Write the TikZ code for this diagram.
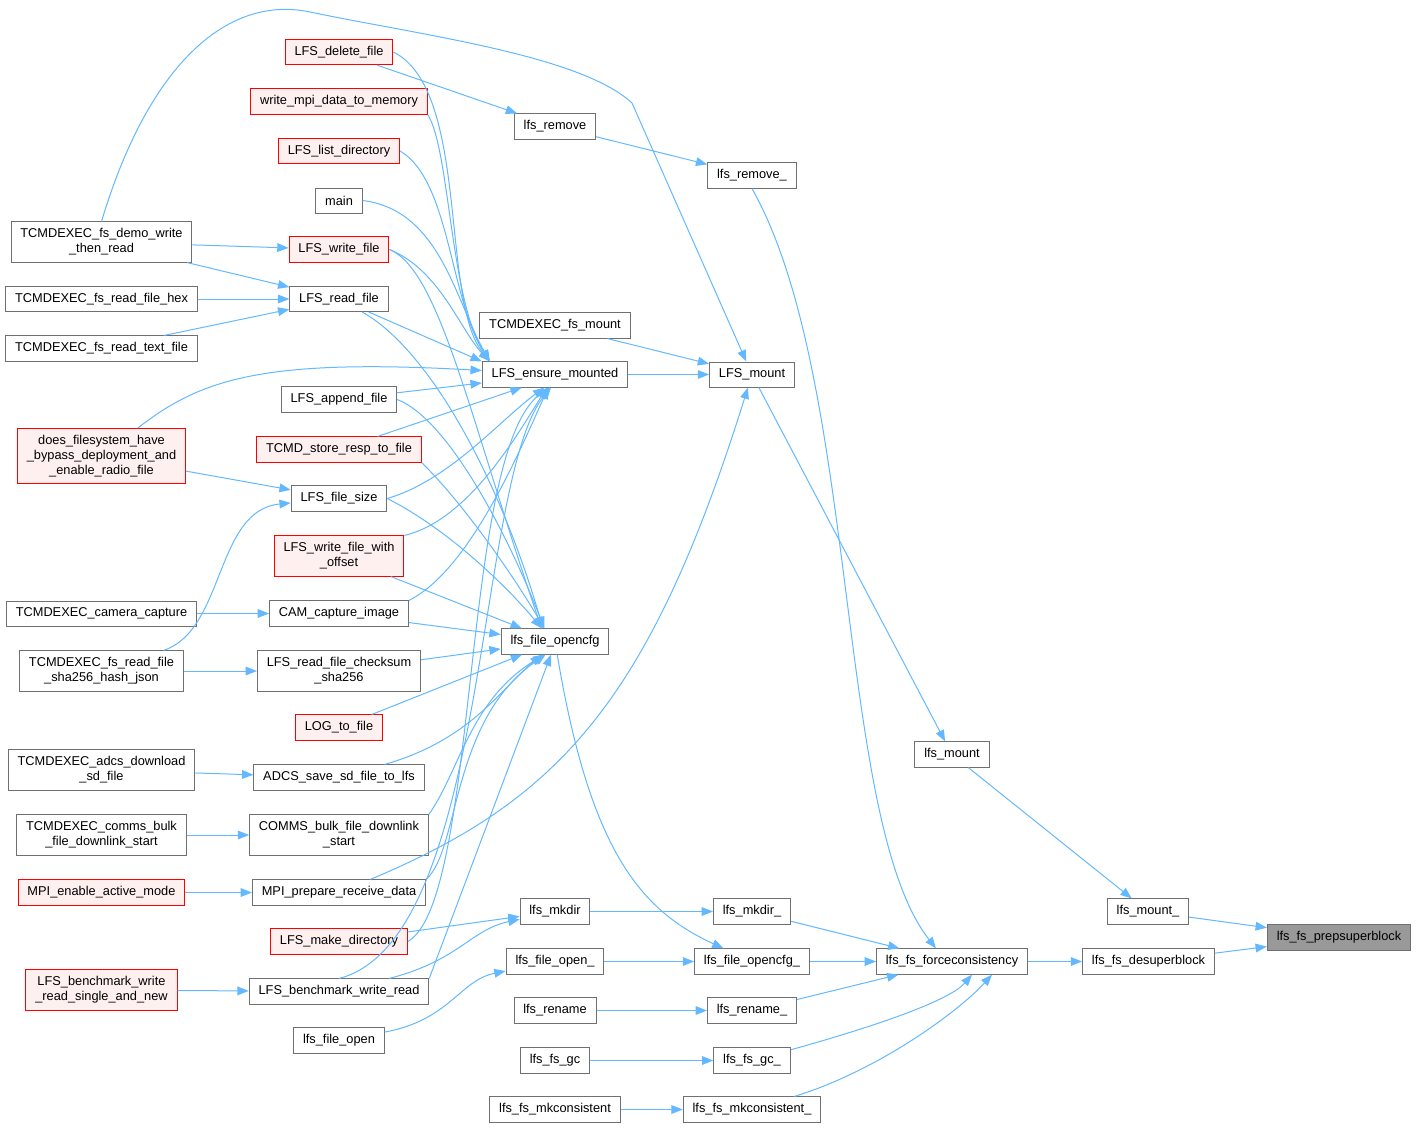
\documentclass[tikz,border=0pt]{standalone}
\usepackage{fontspec}
\setmainfont{Liberation Sans}
\usetikzlibrary{arrows.meta}
\definecolor{lnk}{HTML}{63B8FF}
\definecolor{bord}{HTML}{707070}
\definecolor{redfill}{HTML}{FFF0F0}
\begin{document}
\begin{tikzpicture}[x=0.75pt, y=-0.75pt,
    >={Triangle[length=8.5pt,width=6.5pt]},
    fn/.style = {draw=bord, line width=0.75pt, fill=white, align=center,
                 font=\fontsize{9.6pt}{11.25pt}\selectfont,
                 inner xsep=7pt, inner ysep=5pt, minimum height=18.75pt},
    fnred/.style = {fn, draw=red, fill=redfill},
    fnsel/.style = {fn, fill=black!40},
    link/.style = {->, draw=lnk, fill=none, line width=0.75pt}]
        \useasboundingbox (0,0) rectangle (1419,1128);
        % callee side
        \node[fnsel] (0) at (1339,937.5) {lfs\_fs\_prepsuperblock};
        \node[fn] (1) at (1148,911.5) {lfs\_mount\_};
        \node[fn] (2) at (1148.5,961.5) {lfs\_fs\_desuperblock};
        \node[fn] (3) at (952,754.5) {lfs\_mount};
        \node[fn] (4) at (952,961.5) {lfs\_fs\_forceconsistency};
        \node[fn] (5) at (752,374.5) {LFS\_mount};
        \node[fn] (6) at (752,175.5) {lfs\_remove\_};
        \node[fn] (7) at (752,911.5) {lfs\_mkdir\_};
        \node[fn] (8) at (752,961.5) {lfs\_file\_opencfg\_};
        \node[fn] (9) at (752,1010.5) {lfs\_rename\_};
        \node[fn] (10) at (752,1060.5) {lfs\_fs\_gc\_};
        \node[fn] (11) at (752,1109.5) {lfs\_fs\_mkconsistent\_};
        \node[fn] (12) at (555,126.5) {lfs\_remove};
        \node[fn] (13) at (555,325.5) {TCMDEXEC\_fs\_mount};
        \node[fn] (14) at (555,374.5) {LFS\_ensure\_mounted};
        \node[fn] (15) at (555,641.5) {lfs\_file\_opencfg};
        \node[fn] (16) at (555,911.5) {lfs\_mkdir};
        \node[fn] (17) at (555,961.5) {lfs\_file\_open\_};
        \node[fn] (18) at (555,1010.5) {lfs\_rename};
        \node[fn] (19) at (555,1060.5) {lfs\_fs\_gc};
        \node[fn] (20) at (555,1109.5) {lfs\_fs\_mkconsistent};
        % second column
        \node[fnred] (21) at (339,52) {LFS\_delete\_file};
        \node[fnred] (22) at (339,101.5) {write\_mpi\_data\_to\_memory};
        \node[fnred] (23) at (339,151) {LFS\_list\_directory};
        \node[fn] (24) at (339,200.5) {main};
        \node[fnred] (25) at (339,249.5) {LFS\_write\_file};
        \node[fn] (26) at (339,299) {LFS\_read\_file};
        \node[fn] (27) at (339,399.5) {LFS\_append\_file};
        \node[fnred] (28) at (339,449.5) {TCMD\_store\_resp\_to\_file};
        \node[fn] (29) at (339,498.5) {LFS\_file\_size};
        \node[fnred] (30) at (339,556) {LFS\_write\_file\_with\\\_offset};
        \node[fn] (31) at (339,613.5) {CAM\_capture\_image};
        \node[fn] (32) at (339,671) {LFS\_read\_file\_checksum\\\_sha256};
        \node[fnred] (33) at (339,727.5) {LOG\_to\_file};
        \node[fn] (34) at (339,777.5) {ADCS\_save\_sd\_file\_to\_lfs};
        \node[fn] (35) at (339,835) {COMMS\_bulk\_file\_downlink\\\_start};
        \node[fn] (36) at (339,892.5) {MPI\_prepare\_receive\_data};
        \node[fnred] (37) at (339,941.5) {LFS\_make\_directory};
        \node[fn] (38) at (339,991.5) {LFS\_benchmark\_write\_read};
        \node[fn] (39) at (339,1040.5) {lfs\_file\_open};
        % first column
        \node[fn] (40) at (101.5,242) {TCMDEXEC\_fs\_demo\_write\\\_then\_read};
        \node[fn] (41) at (101.5,299) {TCMDEXEC\_fs\_read\_file\_hex};
        \node[fn] (42) at (101.5,348.5) {TCMDEXEC\_fs\_read\_text\_file};
        \node[fnred] (43) at (101.5,456) {does\_filesystem\_have\\\_bypass\_deployment\_and\\\_enable\_radio\_file};
        \node[fn] (44) at (101.5,613.5) {TCMDEXEC\_camera\_capture};
        \node[fn] (45) at (101.5,671) {TCMDEXEC\_fs\_read\_file\\\_sha256\_hash\_json};
        \node[fn] (46) at (101.5,770) {TCMDEXEC\_adcs\_download\\\_sd\_file};
        \node[fn] (47) at (101.5,835) {TCMDEXEC\_comms\_bulk\\\_file\_downlink\_start};
        \node[fnred] (48) at (101.5,892.5) {MPI\_enable\_active\_mode};
        \node[fnred] (49) at (101.5,990) {LFS\_benchmark\_write\\\_read\_single\_and\_new};
        %
        \draw[link] (1) -- (0);
        \draw[link] (2) -- (0);
        \draw[link] (3) -- (1);
        \draw[link] (4) -- (2);
        \draw[link] (5) -- (3);
        \draw[link] (6.south) .. controls (860,380) and (835,820) .. ([xshift=-12pt]4.north);
        \draw[link] (7) -- (4);
        \draw[link] (8) -- (4);
        \draw[link] (9) -- (4);
        \draw[link] (10) .. controls (880,1025) and (950,1000) .. ([xshift=15pt]4.south);
        \draw[link] (11) .. controls (880,1070) and (960,1010) .. ([xshift=30pt]4.south);
        \draw[link] (12) -- (6);
        \draw[link] (13) -- (5);
        \draw[link] (14) -- (5);
        \draw[link] (15) .. controls (590,850) and (640,910) .. (8);
        \draw[link] (16) -- (7);
        \draw[link] (17) -- (8);
        \draw[link] (18) -- (9);
        \draw[link] (19) -- (10);
        \draw[link] (20) -- (11);
        \draw[link] (21) -- (12);
        \draw[link] (40.north) .. controls (150,60) and (230,-5) .. (310,12)
            .. controls (420,35) and (580,55) .. (632,103) -- (5);
        \draw[link] (36) .. controls (560,800) and (650,700) .. (5);
        % into LFS_ensure_mounted
        \draw[link] (21.east) .. controls (470,90) and (440,300) .. ([xshift=6pt]14.north west);
        \draw[link] (22.south east) .. controls (450,150) and (450,300) .. ([xshift=6pt]14.north west);
        \draw[link] (23.east) .. controls (450,180) and (450,300) .. ([xshift=6pt]14.north west);
        \draw[link] (24.east) .. controls (440,210) and (455,300) .. ([xshift=6pt]14.north west);
        \draw[link] (25.east) .. controls (440,270) and (460,330) .. ([xshift=6pt]14.north west);
        \draw[link] (26) -- (14.north west);
        \draw[link] (43) .. controls (200,380) and (260,358) .. ([yshift=3pt]14.west);
        \draw[link] (27) -- (14);
        \draw[link] (28) -- ([xshift=-25pt]14.south);
        \draw[link] (29.east) .. controls (450,480) and (500,420) .. ([xshift=-8pt]14.south);
        \draw[link] (30.north east) .. controls (470,520) and (520,430) .. ([xshift=-6pt]14.south);
        \draw[link] (31.north east) .. controls (470,570) and (520,450) .. ([xshift=-5pt]14.south);
        \draw[link] (37.east) .. controls (480,900) and (460,450) .. ([xshift=-4pt]14.south);
        \draw[link] (38.north) .. controls (490,940) and (475,480) .. ([xshift=-3pt]14.south);
        % into lfs_file_opencfg
        \draw[link] (25.east) .. controls (440,270) and (470,420) .. ([xshift=-10pt]15.north);
        \draw[link] (26) .. controls (430,350) and (500,480) .. ([xshift=-9pt]15.north);
        \draw[link] (27.east) .. controls (450,420) and (510,540) .. ([xshift=-8pt]15.north);
        \draw[link] (28.south east) .. controls (460,500) and (510,570) .. ([xshift=-8pt]15.north);
        \draw[link] (29.east) .. controls (450,530) and (510,590) .. ([xshift=-10pt]15.north);
        \draw[link] (30) -- (15);
        \draw[link] (31) -- (15);
        \draw[link] (32) -- (15);
        \draw[link] (33) -- (15);
        \draw[link] (34) .. controls (470,740) and (500,690) .. ([xshift=-10pt]15.south);
        \draw[link] (35.north east) .. controls (460,770) and (470,700) .. ([xshift=-8pt]15.south);
        \draw[link] (36.north east) .. controls (460,850) and (450,720) .. ([xshift=-7pt]15.south);
        \draw[link] (38.north east) -- ([xshift=-3pt]15.south);
        % lower calls
        \draw[link] (37) -- (16);
        \draw[link] (38) .. controls (460,960) and (470,930) .. (16);
        \draw[link] (39) .. controls (450,1020) and (460,980) .. (17);
        % first column calls
        \draw[link] (40) -- (25);
        \draw[link] (40) -- (26);
        \draw[link] (41) -- (26);
        \draw[link] (42) -- (26);
        \draw[link] (43) -- (29);
        \draw[link] (44) -- (31);
        \draw[link] (45) .. controls (225,630) and (215,510) .. (29);
        \draw[link] (45) -- (32);
        \draw[link] (46) -- (34);
        \draw[link] (47) -- (35);
        \draw[link] (48) -- (36);
        \draw[link] (49) -- (38);
      \end{tikzpicture}
\end{document}
